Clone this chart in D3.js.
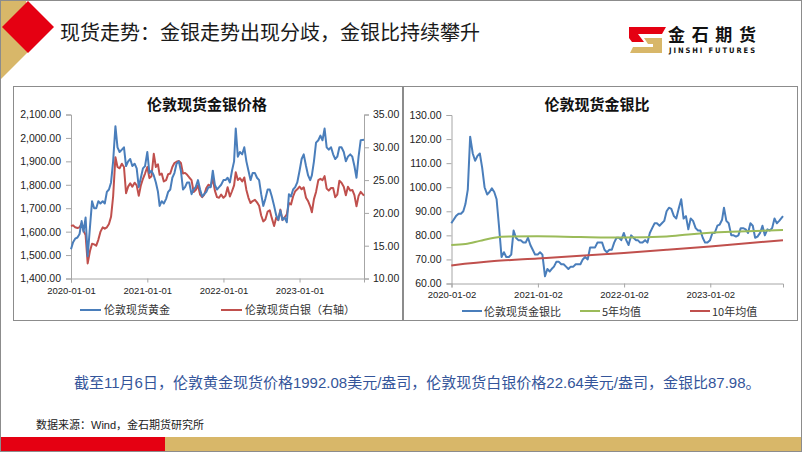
<!DOCTYPE html>
<html><head><meta charset="utf-8">
<script src="https://cdn.jsdelivr.net/npm/d3@7"></script>
<style>body{margin:0;background:#fff}svg{display:block}</style>
</head><body><svg id="c" width="802" height="452"></svg>
<script>
// ---------------- DATA ----------------
// sample dates: 1st, 11th, 21st of each month Jan 2020 .. Oct 2023, then 2023-11-06
const goldValues = [
 1525,1555,1570, 1575,1590,1645, 1600,1660,1495, 1620,1730,1700, 1700,1730,1720, 1730,1720,1770,
 1780,1810,1900, 2050,1960,1940, 1950,1960,1880, 1900,1910,1880, 1890,1870,1790, 1830,1870,1880,
 1940,1850,1860, 1840,1810,1770, 1710,1730,1720, 1740,1770,1780, 1830,1850,1890, 1900,1860,1780,
 1790,1810,1810, 1760,1780,1790, 1820,1780,1750, 1760,1770,1790, 1790,1860,1800, 1780,1790,1800,
 1820,1820,1830, 1810,1860,1900, 2040,1920,1940, 1930,1960,1900, 1860,1820,1850, 1850,1830,1820,
 1760,1710,1740, 1780,1780,1750, 1710,1670,1650, 1690,1650,1660, 1640,1760,1750, 1780,1790,1810,
 1860,1910,1930, 1880,1840,1820, 1840,1900,1980, 1990,2010,1990, 2040,1960,1950, 1960,1930,1910,
 1920,1960,1960, 1940,1900,1920, 1930,1920,1880, 1830,1920,1990, 1992.08];
const silverValues = [
 18.0,18.1,17.8, 17.7,17.8,18.4, 17.3,16.6,12.3, 14.2,15.3,15.2, 15.0,15.9,17.1, 17.8,17.6,17.8,
 18.3,19.4,22.5, 28.5,27.0,26.8, 27.5,27.0,23.0, 24.0,24.5,24.0, 24.6,24.2,22.6, 24.2,25.2,26.0,
 27.0,25.3,25.6, 29.0,27.0,27.4, 25.8,26.0,24.8, 25.0,25.9,26.0, 27.0,27.6,27.8, 27.9,27.6,26.0,
 26.1,25.8,25.4, 25.0,23.2,23.5, 24.2,22.8,22.4, 22.8,23.8,24.3, 24.1,25.2,23.4, 22.4,22.3,22.8,
 22.3,22.6,23.9, 22.5,23.3,24.2, 26.2,25.0,25.3, 24.8,25.4,23.5, 22.3,21.5,21.8, 22.0,21.6,21.1,
 19.6,18.7,19.0, 20.2,20.4,19.2, 18.0,19.3,18.9, 20.5,18.9,19.3, 19.8,21.5,21.3, 22.5,23.3,23.6,
 24.0,23.6,23.9, 22.3,21.8,21.0, 20.1,22.1,23.2, 25.0,25.2,25.0, 25.6,23.7,23.4, 23.8,23.8,22.4,
 22.8,24.9,24.6, 24.0,22.7,24.0, 23.4,23.5,22.7, 21.0,22.6,23.2, 22.64];
const ratioValues = [
 85,86.5,88, 89,89,90, 93,99,121, 114,111,113, 114,108,100, 97,98,99.5,
 98,95,84, 71,73,71, 71,72,82, 79,78,78, 77,77,79, 76,74,72,
 72,73,72, 63,66,65, 66,67,69, 69,68,68, 67,66,67, 67,68,68,
 68,70,71, 70,75,75, 75,77,77, 77,74,73, 74,74,77, 79,79,78,
 81,78,76, 80,79,78, 78,77,77, 78,77,81, 83,85,85, 84,85,86,
 90,91.5,91, 88,87,91, 95,87,88, 82.5,87,86, 83,82,82, 79,77,77,
 78,81,81, 84,84.5,86.5, 91.5,86,85, 80,80,79.5, 80,83,83, 82.5,81,85,
 84,79,79.5, 81,84,80, 82.5,82,83, 87,85,86, 87.98];
const ma5Dates = ["2020-01-01","2020-03-01","2020-05-01","2020-07-01","2020-09-01","2021-01-01","2021-07-01","2022-01-01","2022-07-01","2022-10-01","2023-01-01","2023-05-01","2023-11-06"];
const ma5Values = [76.0,76.4,77.7,79.0,79.5,79.6,79.3,79.1,79.5,80.4,81.1,81.6,82.2];
const ma10Dates = ["2020-01-01","2020-07-01","2021-01-01","2021-07-01","2022-01-01","2022-07-01","2023-01-01","2023-07-01","2023-11-06"];
const ma10Values = [67.5,69.3,70.4,71.5,72.7,74.0,75.4,76.9,78.0];
const goldTicks = [1400,1500,1600,1700,1800,1900,2000,2100];
const silverTicks = [10,15,20,25,30,35];
const ratioTicks = [60,70,80,90,100,110,120,130];
const priceDateTicks = ["2020-01-01","2021-01-01","2022-01-01","2023-01-01"];
const ratioDateTicks = ["2020-01-02","2021-01-02","2022-01-02","2023-01-02"];
const titleText = "现货走势：金银走势出现分歧，金银比持续攀升";
const noteText = "截至11月6日，伦敦黄金现货价格1992.08美元/盎司，伦敦现货白银价格22.64美元/盎司，金银比87.98。";
const sourceText = "数据来源：Wind，金石期货研究所";

// dates
const parse = d3.timeParse("%Y-%m-%d");
const months = d3.timeMonth.range(new Date(2020,0,1), new Date(2023,10,1));
const dates = months.flatMap(m => [1,11,21].map(d => new Date(m.getFullYear(), m.getMonth(), d)));
dates.push(new Date(2023,10,6));

// ---------------- DRAW ----------------
const svg = d3.select("#c");
const CJK = "'Noto Sans CJK SC', sans-serif";
const NUM = "'Liberation Sans', Arial, 'Noto Sans CJK SC', sans-serif";
const BLUE = "#4a7ebb", RED = "#c0504d", GREEN = "#9bbb59", AX = "#a6a6a6";
const GOLD = "#d8b769", BRED = "#e50012";

svg.append("rect").attr("width",802).attr("height",452).attr("fill","#fff");
// header decoration
svg.append("polygon").attr("points","0,0 26,0 30,50 0,80").attr("fill",GOLD);
svg.append("polygon").attr("points","28,1 54,27 28,53 2,27").attr("fill",BRED);
svg.append("text").attr("x",60).attr("y",40).attr("font-family",CJK).attr("font-size",20)
  .attr("fill","#1a1a1a").text(titleText);
// logo
const logo = svg.append("g");
logo.append("polygon").attr("points","629,27 666,27 662,34 638,34 644,42 632,42 629,38").attr("fill",BRED);
logo.append("polygon").attr("points","644,38 662,38 662,53 630,53 633,47 653,47 653,44 648,44").attr("fill",GOLD);
logo.append("text").attr("x",668).attr("y",41).attr("font-family",CJK).attr("font-weight",700)
  .attr("font-size",17).attr("fill","#111").attr("textLength",88).text("金石期货");
logo.append("text").attr("x",669).attr("y",53).attr("font-family","'DejaVu Sans Condensed','DejaVu Sans',sans-serif").attr("font-weight",700)
  .attr("font-size",7.5).attr("fill","#111").attr("textLength",86).text("JINSHI FUTURES");

// frames
svg.append("rect").attr("x",13.5).attr("y",86.5).attr("width",389).attr("height",234).attr("fill","none").attr("stroke","#8c8c8c");
svg.append("rect").attr("x",403.5).attr("y",86.5).attr("width",394).attr("height",234).attr("fill","none").attr("stroke","#8c8c8c");

function styleAxis(g, fs){
  g.select(".domain").attr("stroke",AX);
  g.selectAll(".tick line").attr("stroke",AX);
  g.selectAll("text").attr("font-family",NUM).attr("font-size",fs).attr("fill","#222");
}

// ---- left chart ----
const L = {l:71, r:364, t:114.5, b:278.5};
const xL = d3.scaleTime().domain([new Date(2020,0,1), new Date(2023,10,6)]).range([L.l, L.r]);
const yG = d3.scaleLinear().domain([1400,2100]).range([L.b, L.t]);
const yS = d3.scaleLinear().domain([10,35]).range([L.b, L.t]);
svg.append("g").attr("transform",`translate(${L.l},0)`)
  .call(d3.axisLeft(yG).tickValues(goldTicks).tickFormat(d3.format(",.2f")).tickSize(5).tickPadding(5))
  .call(g=>styleAxis(g,10.5));
svg.append("g").attr("transform",`translate(${L.r},0)`)
  .call(d3.axisRight(yS).tickValues(silverTicks).tickFormat(d3.format(".2f")).tickSize(5).tickPadding(4))
  .call(g=>styleAxis(g,10.5));
svg.append("g").attr("transform",`translate(0,${L.b})`)
  .call(d3.axisBottom(xL).tickValues(priceDateTicks.map(parse)).tickFormat((d,i)=>priceDateTicks[i]).tickSize(4).tickPadding(5))
  .call(g=>styleAxis(g,9.5));
const lineG = d3.line().x((d,i)=>xL(dates[i])).y(d=>yG(d)).curve(d3.curveLinear);
const lineS = d3.line().x((d,i)=>xL(dates[i])).y(d=>yS(d));
svg.append("path").datum(silverValues).attr("d",lineS).attr("fill","none").attr("stroke",RED).attr("stroke-width",2).attr("stroke-linejoin","round");
svg.append("path").datum(goldValues).attr("d",lineG).attr("fill","none").attr("stroke",BLUE).attr("stroke-width",2).attr("stroke-linejoin","round");
svg.append("text").attr("x",207).attr("y",110).attr("text-anchor","middle").attr("font-family",CJK)
  .attr("font-weight",700).attr("font-size",15).attr("fill","#111").text("伦敦现货金银价格");
// legend left
const legL = [{x:80,c:BLUE,t:"伦敦现货黄金"},{x:221,c:RED,t:"伦敦现货白银（右轴）"}];
legL.forEach(d=>{
  svg.append("line").attr("x1",d.x).attr("x2",d.x+21).attr("y1",310).attr("y2",310).attr("stroke",d.c).attr("stroke-width",2);
  svg.append("text").attr("x",d.x+24).attr("y",314).attr("font-family",CJK).attr("font-size",11).attr("fill","#333").text(d.t);
});

// ---- right chart ----
const R = {l:451.5, r:783, t:115, b:283.5};
const xR = d3.scaleTime().domain([new Date(2020,0,2), new Date(2023,10,6)]).range([R.l, R.r]);
const yR = d3.scaleLinear().domain([60,130]).range([R.b, R.t]);
svg.append("g").attr("transform",`translate(${R.l},0)`)
  .call(d3.axisLeft(yR).tickValues(ratioTicks).tickFormat(d3.format(".2f")).tickSize(5).tickPadding(5))
  .call(g=>styleAxis(g,10.5));
svg.append("g").attr("transform",`translate(0,${R.b})`)
  .call(d3.axisBottom(xR).tickValues(ratioDateTicks.map(parse)).tickFormat((d,i)=>ratioDateTicks[i]).tickSize(4).tickPadding(4))
  .call(g=>styleAxis(g,9.5));
const lineR = d3.line().x((d,i)=>xR(dates[i])).y(d=>yR(d));
svg.append("path").datum(ratioValues).attr("d",lineR).attr("fill","none").attr("stroke",BLUE).attr("stroke-width",2).attr("stroke-linejoin","round");
const ma = (ds,vs)=> d3.line().curve(d3.curveMonotoneX).x((d,i)=>xR(parse(ds[i]))).y(d=>yR(d))(vs);
svg.append("path").attr("d",ma(ma5Dates,ma5Values)).attr("fill","none").attr("stroke",GREEN).attr("stroke-width",2);
svg.append("path").attr("d",ma(ma10Dates,ma10Values)).attr("fill","none").attr("stroke",RED).attr("stroke-width",2);
svg.append("text").attr("x",597).attr("y",110).attr("text-anchor","middle").attr("font-family",CJK)
  .attr("font-weight",700).attr("font-size",15).attr("fill","#111").text("伦敦现货金银比");
const legR = [{x:462,c:BLUE,t:"伦敦现货金银比"},{x:580,c:GREEN,t:"5年均值"},{x:690,c:RED,t:"10年均值"}];
legR.forEach(d=>{
  svg.append("line").attr("x1",d.x).attr("x2",d.x+20).attr("y1",311).attr("y2",311).attr("stroke",d.c).attr("stroke-width",2);
  svg.append("text").attr("x",d.x+22).attr("y",315.5).attr("font-family",CJK).attr("font-size",11).attr("fill","#333").text(d.t);
});

// notes
svg.append("text").attr("x",74).attr("y",388).attr("font-family",NUM).attr("font-size",15)
  .attr("fill","#34559a").text(noteText);
svg.append("text").attr("x",36).attr("y",429).attr("font-family",NUM).attr("font-size",11)
  .attr("fill","#222").text(sourceText);
// bottom bar
svg.append("rect").attr("x",0).attr("y",437).attr("width",165).attr("height",14).attr("fill",BRED);
svg.append("rect").attr("x",165).attr("y",437).attr("width",637).attr("height",14).attr("fill",GOLD);
// slide border
svg.append("rect").attr("x",0.5).attr("y",0.5).attr("width",801).attr("height",451).attr("fill","none").attr("stroke","#8c8c8c");
</script></body></html>
